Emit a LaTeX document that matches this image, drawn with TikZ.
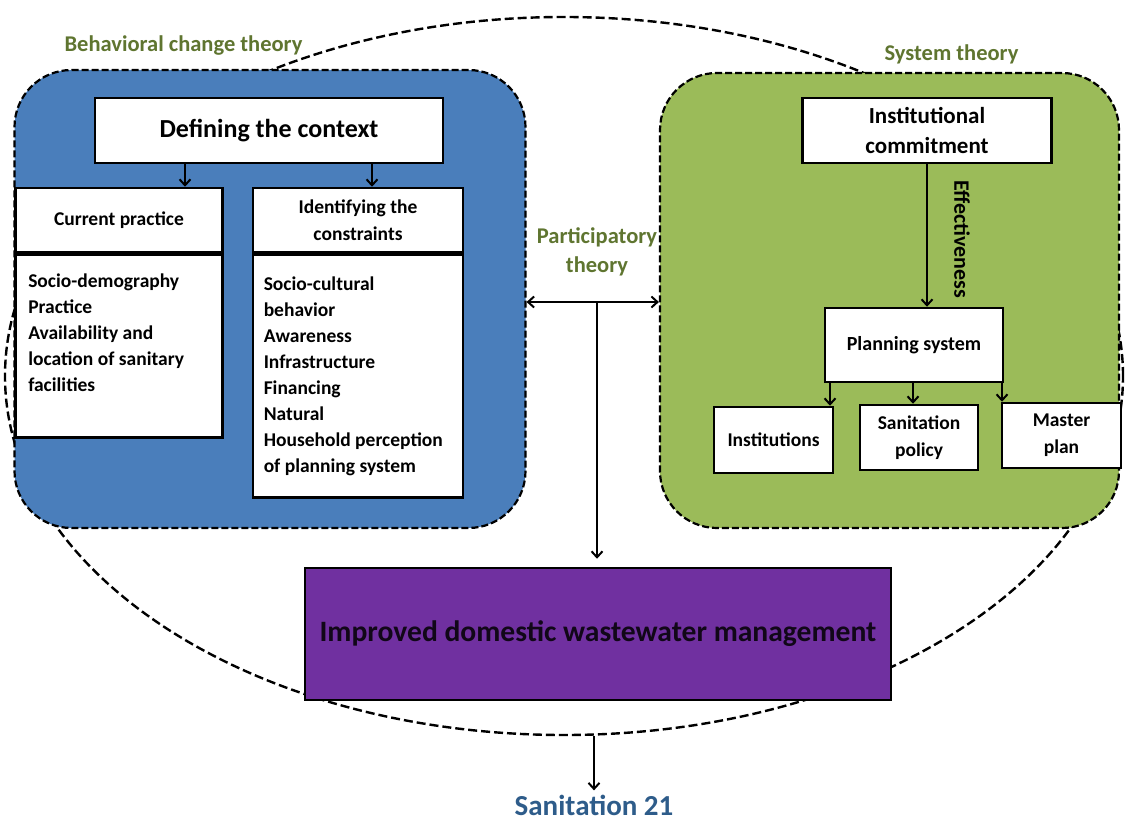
\documentclass[tikz,border=0pt]{standalone}
\usepackage{fontspec}
\setmainfont{Carlito}
\usetikzlibrary{positioning, shapes.geometric, arrows.meta}
\definecolor{bcblue}{RGB}{74,126,187}
\definecolor{stgreen}{RGB}{155,187,89}
\definecolor{idpurple}{RGB}{112,48,160}
\definecolor{olivetxt}{RGB}{95,117,48}
\definecolor{sanblue}{RGB}{46,92,138}
\tikzset{
  theorybox/.style={draw, dashed, dash pattern=on 7pt off 3pt, line width=2.2pt, rounded corners=57pt, inner sep=0pt},
  box/.style={draw, line width=2.5pt, fill=white, inner sep=0pt, align=center, font=\fontsize{19.5}{27}\selectfont\bfseries},
  list/.style={anchor=north west, inner sep=0pt, align=left, font=\fontsize{19.5}{26}\selectfont\bfseries},
  theorylbl/.style={text=olivetxt, align=center, font=\fontsize{22.5}{29}\selectfont\bfseries},
}

\begin{document}
\begin{tikzpicture}[x=1pt, y=-1pt, >={Straight Barb[length=6pt,width=11pt]}, line width=2pt]
\useasboundingbox (0,0) rectangle (1126,821);
\node[ellipse, draw, dashed, line width=2.4pt, dash pattern=on 9pt off 4pt, minimum width=1118pt, minimum height=718pt, inner sep=0pt] (outer) at (564,376) {};
\node[theorybox, fill=bcblue, minimum width=511pt, minimum height=458pt] (bcbox) at (270,299) {};
\node[theorybox, fill=stgreen, minimum width=459pt, minimum height=455pt] (stbox) at (889.5,300.5) {};
\node[theorylbl] (bclbl) at (183.5,46) {Behavioral change theory};
\node[theorylbl] (stlbl) at (951.5,54) {System theory};
\node[theorylbl] (ptlbl) at (597,252) {Participatory\\theory};

% behavioral change
\node[box, minimum width=348pt, minimum height=65pt, font=\fontsize{26}{31}\selectfont\bfseries] (ctx) at (269,130.5) {Defining the context};
\node[box, minimum width=207pt, minimum height=64pt] (cur) at (119,220) {Current practice};
\node[box, minimum width=207pt, minimum height=183pt, anchor=north] (curbody) at (cur.south) {};
\node[box, minimum width=210pt, minimum height=64pt] (cons) at (358,220) {Identifying the\\constraints};
\node[box, minimum width=210pt, minimum height=243pt, anchor=north] (consbody) at (cons.south) {};
\node[list] (curlist) at ([xshift=13pt, yshift=-20pt]curbody.north west) {Socio-demography\\Practice\\Availability and\\location of sanitary\\facilities};
\node[list] (conslist) at ([xshift=11pt, yshift=-23pt]consbody.north west) {Socio-cultural\\behavior\\Awareness\\Infrastructure\\Financing\\Natural\\Household perception\\of planning system};
\draw[->](ctx.south -| 185,0)--(cur.north -| 185,0);
\draw[->](ctx.south -| 372,0)--(cons.north -| 372,0);

% system
\node[box, minimum width=249pt, minimum height=65pt, font=\fontsize{23}{30}\selectfont\bfseries] (inst) at (927,130.5) {Institutional\\commitment};
\node[box, minimum width=178pt, minimum height=74pt, font=\fontsize{20}{27}\selectfont\bfseries] (plan) at (914,345) {Planning system};
\node[box, minimum width=119pt, minimum height=66pt] (instn) at (773.5,440) {Institutions};
\node[box, minimum width=118pt, minimum height=65pt] (spol) at (919,437.5) {Sanitation\\policy};
\node[box, minimum width=119pt, minimum height=65pt] (mplan) at (1061.5,435.5) {Master\\plan};
\draw[->](inst.south -| 927,0)--(plan.north -| 927,0);
\node[rotate=-90, font=\fontsize{22}{26}\selectfont\bfseries] (eff) at (962,239) {Effectiveness};
\draw[->](plan.south -| 830,0)--(instn.north -| 830,0);
\draw[->](plan.south -| 913,0)--(spol.north -| 913,0);
\draw[->](plan.south -| 1002,0)--(mplan.north -| 1002,0);

% participatory
\node[box, fill=idpurple, minimum width=586pt, minimum height=132pt, text=black!85!idpurple, font=\fontsize{29.6}{35}\selectfont\bfseries] (idwm) at (598,634) {Improved domestic wastewater management};
\coordinate (hub) at (597,302);
\draw[<->](hub -| bcbox.east)--(hub -| stbox.west);
\draw[->, shorten >=8pt](hub)--(hub |- idwm.north);
\node[text=sanblue, font=\fontsize{29}{34}\selectfont\bfseries] (san) at (594,805) {Sanitation 21};
\draw[->](san |- outer.south)--(san.north);
\end{tikzpicture}
\end{document}
